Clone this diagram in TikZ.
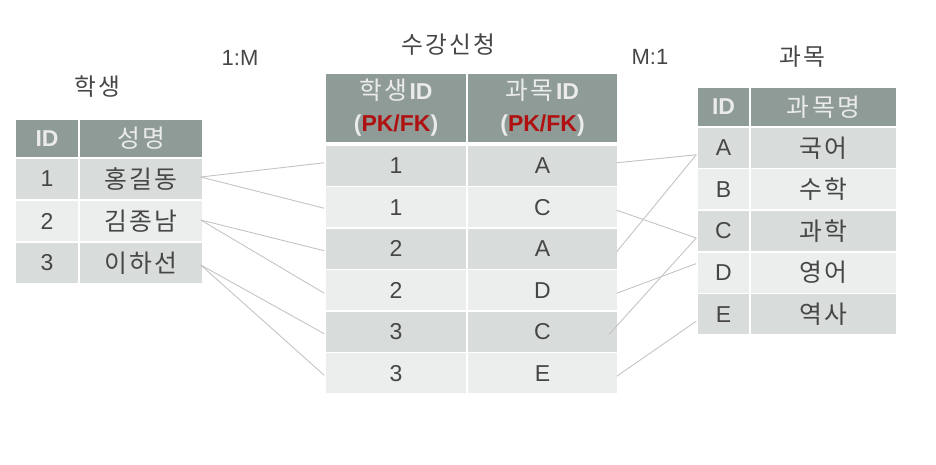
\documentclass[tikz,border=0pt]{standalone}
\usepackage{fontspec}
\setmainfont{Liberation Sans}
\newfontfamily\kr[Scale = 1.08, LetterSpace = 9]{Noto Sans CJK KR}
\usetikzlibrary{calc}
\definecolor{hdrgray}{RGB}{142,155,150}
\definecolor{rowdark}{RGB}{216,220,219}
\definecolor{rowlight}{RGB}{236,238,237}
\definecolor{txtgray}{RGB}{70,70,70}
\definecolor{linkgray}{RGB}{196,196,196}
\definecolor{pkred}{RGB}{176,16,16}
\tikzset {
    cell/.style = {draw = white, line width = 1.5pt, inner sep = 0pt,
        text = txtgray, font = \fontsize{23}{27}\selectfont},
    hdr/.style = {cell, fill = hdrgray, text = white!92!black},
    title/.style = {text = txtgray, font = \fontsize{22}{26}\selectfont},
    link/.style = {draw = linkgray, line width = 0.9pt}
}
\begin{document}
\begin{tikzpicture}[x = 1pt, y = -1pt]
    \useasboundingbox (0, 0) rectangle (936, 465);
    % titles
    \node[title] (tstud) at (97, 87) {\kr 학생};
    \node[title] (tenrol) at (448, 45) {\kr 수강신청};
    \node[title] (tcour) at (802, 57) {\kr 과목};
    \node[title] (onem) at (240, 58) {1:M};
    \node[title] (mone) at (650, 57) {M:1};
    % student table
    \node[hdr, minimum width = 64pt, minimum height = 39pt] (sh1) at (47, 138.5) {\textbf{ID}};
    \node[hdr, minimum width = 124pt, minimum height = 39pt] (sh2) at (141, 138.5) {\kr 성명};
    \foreach \n/\nm [count = \i] in {1/홍길동, 2/김종남, 3/이하선} {
        \ifodd\i \def\rowfill{rowdark}\else \def\rowfill{rowlight}\fi
        \node[cell, fill = \rowfill, minimum width = 64pt, minimum height = 42pt]
            (sid\i) at (47, 137 + 42*\i) {\n};
        \node[cell, fill = \rowfill, minimum width = 124pt, minimum height = 42pt]
            (sn\i) at (141, 137 + 42*\i) {\kr \nm};
    }
    % enrolment table
    \node[hdr, align = center, minimum width = 142pt, minimum height = 70pt] (eh1) at (396, 108)
        {{\kr 학생}\textbf{ID}\\[5pt]\textbf{(\textcolor{pkred}{PK/FK})}};
    \node[hdr, align = center, minimum width = 151pt, minimum height = 70pt] (eh2) at (542.5, 108)
        {{\kr 과목}\textbf{ID}\\[5pt]\textbf{(\textcolor{pkred}{PK/FK})}};
    \foreach \s/\c [count = \i] in {1/A, 1/C, 2/A, 2/D, 3/C, 3/E} {
        \ifodd\i \def\rowfill{rowdark}\else \def\rowfill{rowlight}\fi
        \node[cell, fill = \rowfill, minimum width = 142pt, minimum height = 41.5pt]
            (el\i) at (396, 124.25 + 41.5*\i) {\s};
        \node[cell, fill = \rowfill, minimum width = 151pt, minimum height = 41.5pt]
            (er\i) at (542.5, 124.25 + 41.5*\i) {\c};
    }
    % course table
    \node[hdr, minimum width = 53pt, minimum height = 40pt] (ch1) at (723.5, 107) {\textbf{ID}};
    \node[hdr, minimum width = 147pt, minimum height = 40pt] (ch2) at (823.5, 107) {\kr 과목명};
    \foreach \c/\nm [count = \i] in {A/국어, B/수학, C/과학, D/영어, E/역사} {
        \ifodd\i \def\rowfill{rowdark}\else \def\rowfill{rowlight}\fi
        \node[cell, fill = \rowfill, minimum width = 53pt, minimum height = 41.6pt]
            (cid\i) at (723.5, 106.2 + 41.6*\i) {\c};
        \node[cell, fill = \rowfill, minimum width = 147pt, minimum height = 41.6pt]
            (cn\i) at (823.5, 106.2 + 41.6*\i) {\kr \nm};
    }
    % 1:M links
    \draw[link] ([shift = {(-3pt, 2pt)}]sn1.east) -- ([yshift = 3pt]el1.west);
    \draw[link] ([shift = {(-3pt, 2pt)}]sn1.east) -- ([yshift = -1pt]el2.west);
    \draw[link] ([shift = {(-3pt, 1pt)}]sn2.east) -- ([yshift = -2pt]el3.west);
    \draw[link] ([shift = {(-3pt, 1pt)}]sn2.east) -- ([yshift = -3pt]el4.west);
    \draw[link] ([shift = {(-3pt, -2pt)}]sn3.east) -- ([yshift = -2pt]el5.west);
    \draw[link] ([shift = {(-3pt, -2pt)}]sn3.east) -- ([yshift = -2pt]el6.west);
    % M:1 links
    \draw[link] ([xshift = -2pt, yshift = 3pt]er1.east) -- ([yshift = -7pt]cid1.west);
    \draw[link] ([xshift = -2pt, yshift = -3pt]er2.east) -- ([yshift = -7pt]cid3.west);
    \draw[link] ([xshift = -2pt, yshift = -3pt]er3.east) -- ([yshift = -7pt]cid1.west);
    \draw[link] ([xshift = -2pt, yshift = -3pt]er4.east) -- ([yshift = 9pt]cid4.west);
    \draw[link] ([xshift = -10pt, yshift = -3pt]er5.east) -- ([yshift = -7pt]cid3.west);
    \draw[link] ([xshift = -2pt, yshift = -3pt]er6.east) -- ([yshift = -7pt]cid5.west);
\end{tikzpicture}
\end{document}
